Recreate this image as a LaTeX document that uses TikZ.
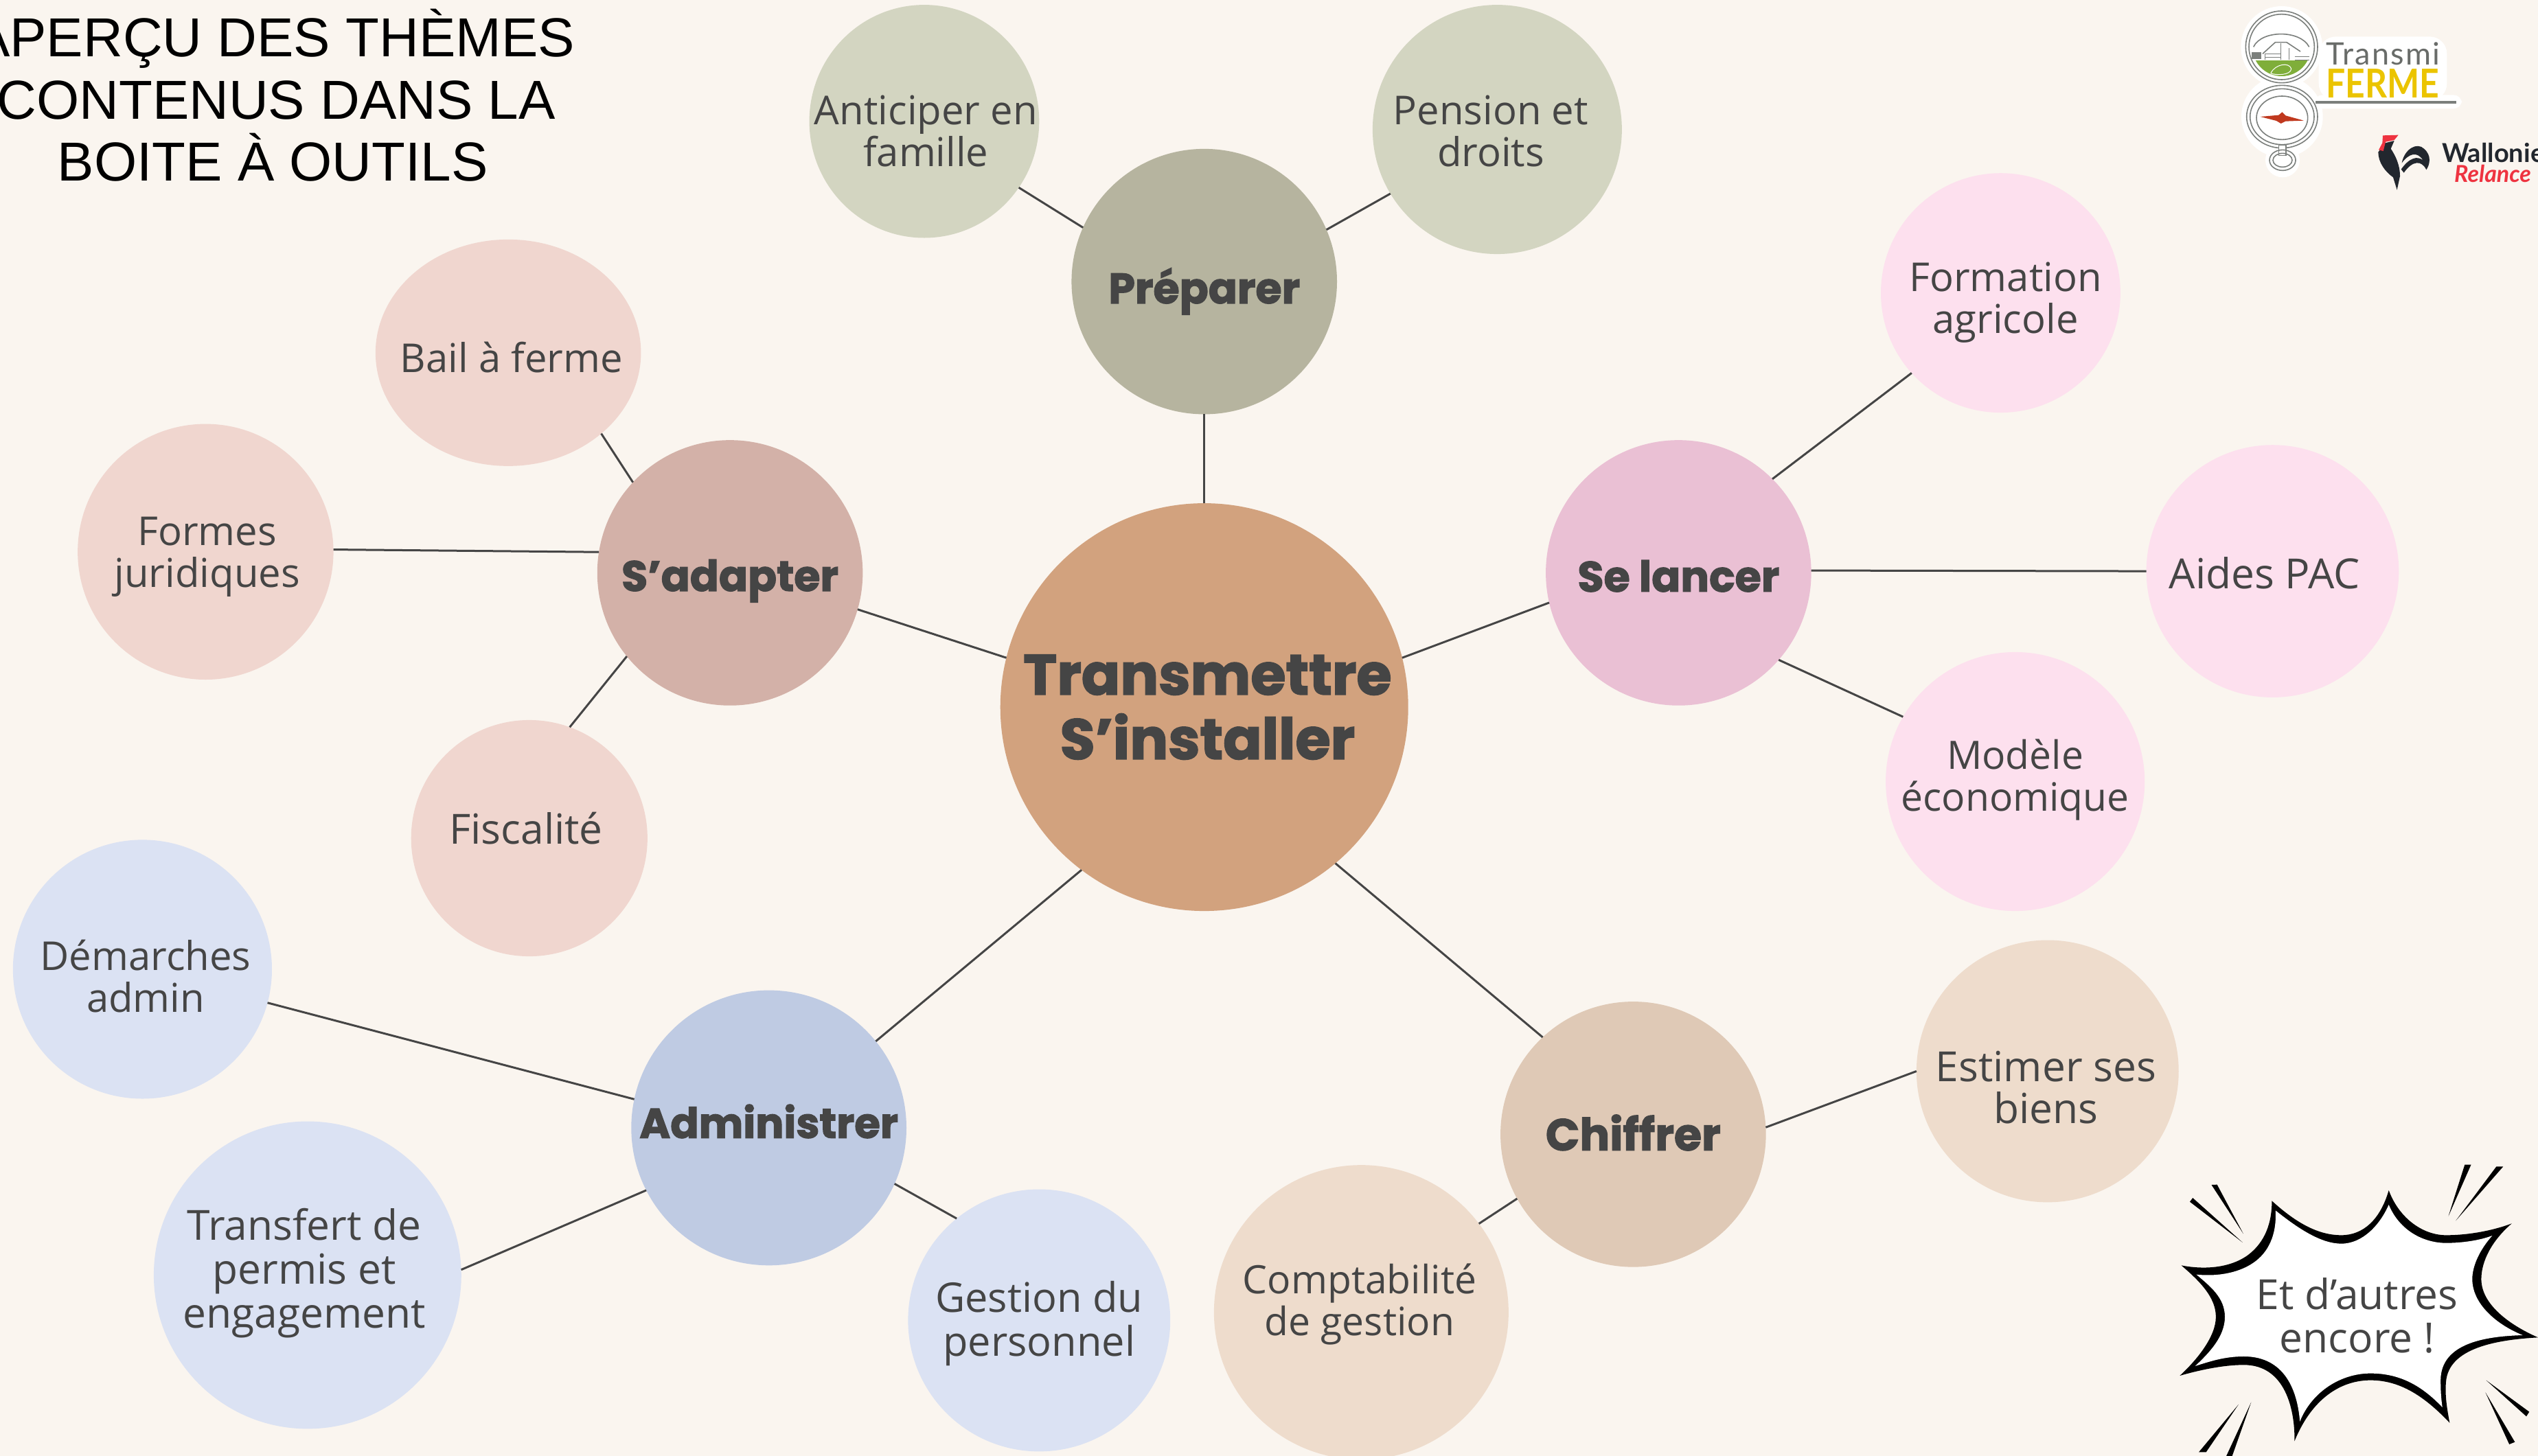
\documentclass[tikz,border=0pt]{standalone}
\usepackage{fontspec}
\setmainfont{Open Sans}
\newfontfamily\heavyfont{Poppins}[FakeBold=2]
\newfontfamily\titlefont{Liberation Sans}
\newfontfamily\logofont{Lato}
\newfontfamily\logospaced{Lato}[LetterSpace=5]
\newfontfamily\logonarrow{Lato}[FakeStretch=0.86]
\usetikzlibrary{shapes.geometric}
\definecolor{bgc}{HTML}{FAF5EF}
\definecolor{ink}{HTML}{454545}
\definecolor{cCentre}{HTML}{D2A27E}
\definecolor{cPrep}{HTML}{B6B49F}
\definecolor{cPrepL}{HTML}{D3D5C1}
\definecolor{cAdapt}{HTML}{D3B1A8}
\definecolor{cAdaptL}{HTML}{F0D6CF}
\definecolor{cLance}{HTML}{EAC0D4}
\definecolor{cLanceL}{HTML}{FDE0EE}
\definecolor{cAdmin}{HTML}{BFCBE3}
\definecolor{cAdminL}{HTML}{DBE2F3}
\definecolor{cChiff}{HTML}{DFC9B6}
\definecolor{cChiffL}{HTML}{EEDCCC}
\definecolor{logogray}{HTML}{7B7F7C}
\definecolor{logogreen}{HTML}{7FAE3A}
\definecolor{logoyellow}{HTML}{EBC400}
\definecolor{logored}{HTML}{C0391F}
\definecolor{walldark}{HTML}{22272E}
\definecolor{wallred}{HTML}{EE3340}
\tikzset{
  blob/.style={shape=ellipse,inner sep=0pt,outer sep=0pt},
  leaftext/.style={text=ink,align=center,font=\fontsize{58}{61}\selectfont},
  leafwide/.style={text=ink,align=center,font=\fontsize{60.5}{61}\selectfont},
  leaftall/.style={text=ink,align=center,font=\fontsize{58}{64}\selectfont},
  headtext/.style={text=ink,align=center,font=\heavyfont\bfseries\fontsize{62}{70}\selectfont},
  link/.style={draw=ink,line width=3pt},
  titleline/.style={text=black,anchor=base,font=\titlefont\fontsize{80}{90}\selectfont,inner sep=0pt},
  logoline/.style={draw=logogray,line width=1.6pt,fill=none},
}
\newcommand{\bubble}[9]{%
  \node[blob,fill=#6,minimum width={2*#4*2.35714pt},minimum height={2*#5*2.35714pt}] (#1) at (#2,#3) {};
  \node[#9] (#1-t) at (#7,#8) {\bubbletext};
}
\begin{document}
\begin{tikzpicture}[x=2.35714pt,y=-2.35714pt]
\useasboundingbox (0,0) rectangle (1568,899.8);
\fill[bgc] (0,0) rectangle (1568,899.8);

% title
\node[titleline] (t1) at (169.3,35.2) {APERÇU DES THÈMES};
\node[titleline] (t2) at (170.6,73.4) {CONTENUS DANS LA};
\node[titleline] (t3) at (168.5,111.6) {BOITE À OUTILS};

% bubbles
\def\bubbletext{Transmettre\\S’installer}
\bubble{c}{744}{437}{126}{126}{cCentre}{746}{437}{headtext,font=\heavyfont\bfseries\fontsize{83}{94}\selectfont}
\def\bubbletext{Préparer}
\bubble{prep}{744}{174}{82}{82}{cPrep}{744}{180}{headtext}
\def\bubbletext{Anticiper en\\famille}
\bubble{anti}{571}{75}{71}{72}{cPrepL}{572}{81}{leaftext}
\def\bubbletext{Pension et\\droits}
\bubble{pens}{925}{80}{77}{77}{cPrepL}{921}{81}{leaftext}
\def\bubbletext{S’adapter}
\bubble{adap}{451}{354}{82}{82}{cAdapt}{451}{359}{headtext}
\def\bubbletext{Bail à ferme}
\bubble{bail}{314}{218}{82}{70}{cAdaptL}{316}{221}{leaftext}
\def\bubbletext{Formes\\juridiques}
\bubble{form}{127}{341}{79}{79}{cAdaptL}{128}{344}{leaftext}
\def\bubbletext{Fiscalité}
\bubble{fisc}{327}{518}{73}{73}{cAdaptL}{325}{512}{leafwide}
\def\bubbletext{Se lancer}
\bubble{lanc}{1037}{354}{82}{82}{cLance}{1037}{356}{headtext}
\def\bubbletext{Formation\\agricole}
\bubble{fmat}{1236}{181}{74}{74}{cLanceL}{1239}{187}{leaftext}
\def\bubbletext{Aides PAC}
\bubble{aide}{1404}{353}{78}{78}{cLanceL}{1399}{354}{leafwide}
\def\bubbletext{Modèle\\économique}
\bubble{mode}{1245}{483}{80}{80}{cLanceL}{1245}{482}{leaftext,font=\fontsize{57}{61}\selectfont}
\def\bubbletext{Administrer}
\bubble{admi}{475}{697}{85}{85}{cAdmin}{475}{693}{headtext,font=\heavyfont\bfseries\fontsize{61}{70}\selectfont}
\def\bubbletext{Démarches\\admin}
\bubble{dema}{88}{599}{80}{80}{cAdminL}{90}{603.5}{leaftext}
\def\bubbletext{Transfert de\\permis et\\engagement}
\bubble{tran}{190}{788}{95}{95}{cAdminL}{188}{787}{leaftall,font=\fontsize{60.5}{64}\selectfont}
\def\bubbletext{Gestion du\\personnel}
\bubble{gest}{642}{816}{81}{81}{cAdminL}{642}{818}{leaftall,font=\fontsize{59.5}{64}\selectfont}
\def\bubbletext{Chiffrer}
\bubble{chif}{1009}{701}{82}{82}{cChiff}{1009}{700}{headtext,font=\heavyfont\bfseries\fontsize{65}{70}\selectfont}
\def\bubbletext{Estimer ses\\biens}
\bubble{esti}{1265}{662}{81}{81}{cChiffL}{1264}{672}{leafwide}
\def\bubbletext{Comptabilité\\de gestion}
\bubble{comp}{841}{811}{91}{91}{cChiffL}{840}{806}{leaftext,font=\fontsize{57}{61}\selectfont}

% connectors
\draw[link] (c.90) -- (prep.-90);
\draw[link] (c.166.2) -- (adap.-16.4);
\draw[link] (c.14.7) -- (lanc.193.5);
\draw[link] (c.233) -- (admi.39.3);
\draw[link] (c.-50.8) -- (chif.133);
\draw[link] (prep.156) -- (anti.-35);
\draw[link] (prep.23) -- (pens.211);
\draw[link] (adap.137.5) -- (bail.-41.8);
\draw[link] (adap.171) -- (form.1.5);
\draw[link] (adap.219.5) -- (fisc.70.8);
\draw[link] (lanc.45.5) -- (fmat.222);
\draw[link] (lanc.1.4) -- (aide.180.7);
\draw[link] (lanc.-41.5) -- (mode.150);
\draw[link] (admi.168.6) -- (dema.-15.3);
\draw[link] (admi.207) -- (tran.2.4);
\draw[link] (admi.-24.8) -- (gest.129);
\draw[link] (chif.3.5) -- (esti.180);
\draw[link] (chif.209.4) -- (comp.37.9);

% burst
\begin{scope}[shift={(3140pt,-1660pt)},x=0.3546pt,y=-0.3333pt]
\fill[black] (475,268) .. controls (580,370) and (670,418) .. (760,418)
  .. controls (850,418) and (920,350) .. (955,222)
  .. controls (1000,350) and (1100,418) .. (1190,418)
  .. controls (1290,418) and (1390,395) .. (1460,367)
  .. controls (1380,440) and (1335,530) .. (1335,610)
  .. controls (1335,720) and (1450,810) .. (1568,865)
  .. controls (1400,875) and (1200,910) .. (1190,1060)
  .. controls (1185,1120) and (1195,1180) .. (1205,1238)
  .. controls (1100,1120) and (1000,1052) .. (880,1052)
  .. controls (760,1052) and (640,1130) .. (568,1318)
  .. controls (570,1180) and (530,985) .. (360,985)
  .. controls (270,985) and (170,1010) .. (97,1032)
  .. controls (170,960) and (245,860) .. (245,775)
  .. controls (245,690) and (180,620) .. (103,550)
  .. controls (200,570) and (300,560) .. (370,510)
  .. controls (450,450) and (475,360) .. (475,268) -- cycle;
\fill[white] (490,310) .. controls (590,395) and (680,455) .. (760,455)
  .. controls (850,455) and (920,370) .. (955,285)
  .. controls (1000,400) and (1100,452) .. (1190,452)
  .. controls (1260,452) and (1330,440) .. (1380,420)
  .. controls (1330,480) and (1298,550) .. (1298,610)
  .. controls (1298,720) and (1400,810) .. (1505,855)
  .. controls (1350,860) and (1170,890) .. (1168,1050)
  .. controls (1168,1100) and (1170,1130) .. (1175,1170)
  .. controls (1090,1075) and (1000,1022) .. (880,1022)
  .. controls (760,1022) and (640,1100) .. (590,1232)
  .. controls (580,1100) and (530,948) .. (360,948)
  .. controls (280,948) and (220,970) .. (160,990)
  .. controls (220,930) and (282,860) .. (282,775)
  .. controls (282,690) and (220,640) .. (165,590)
  .. controls (260,600) and (350,580) .. (410,530)
  .. controls (470,480) and (495,400) .. (490,310) -- cycle;
\fill[black] (355,450) -- (138,272) -- (150,255) -- cycle;
\fill[black] (358,412) -- (227,198) -- (250,197) -- cycle;
\fill[black] (1200,335) -- (1267,110) -- (1293,110) -- cycle;
\fill[black] (1230,355) -- (1397,118) -- (1425,118) -- cycle;
\fill[black] (1355,1052) -- (1520,1210) -- (1532,1190) -- cycle;
\fill[black] (1352,1105) -- (1450,1332) -- (1473,1322) -- cycle;
\fill[black] (338,1158) -- (175,1366) -- (205,1366) -- cycle;
\fill[black] (390,1148) -- (288,1383) -- (312,1383) -- cycle;
\node[leaftext,font=\fontsize{60.5}{63}\selectfont] (burst) at (825,770) {Et d’autres\\encore !};
\end{scope}

% logos
\begin{scope}[shift={(3180pt,0pt)},x=0.33333pt,y=-0.33333pt]
\fill[white] (428,205) circle (178);
\fill[white] (430,510) circle (178);
\fill[white] (432,700) circle (75);
\fill[white,rounded corners=25pt] (590,160) rectangle (1150,440);
\fill[white,rounded corners=12pt] (570,415) rectangle (1215,475);
\begin{scope}
\clip (428,205) circle (128);
\fill[logogreen] (280,265) rectangle (580,360);
\draw[white,line width=1pt] (380,320) .. controls (400,280) and (460,270) .. (470,300) .. controls (470,330) and (400,330) .. (380,320);
\end{scope}
\draw[logoline] (428,205) circle (157);
\draw[logoline] (428,205) circle (143);
\draw[logoline] (305,205) .. controls (340,130) and (510,130) .. (548,205);
\draw[logoline] (345,235) -- (400,185) -- (450,185) -- (510,225);
\draw[logoline] (355,235) -- (355,262) (425,190) -- (425,262) (460,210) -- (460,262);
\draw[logoline] (355,235) -- (425,235) (355,250) -- (425,250);
\draw[logoline] (485,262) -- (550,262) (485,248) -- (550,248);
\fill[logogray] (298,228) rectangle (340,258);
\draw[logoline] (430,510) ellipse [x radius=155,y radius=137];
\draw[logoline] (430,510) ellipse [x radius=140,y radius=122];
\draw[logoline] (430,515) ellipse [x radius=112,y radius=95];
\fill[white,draw=logogray,line width=1.2pt] (415,635) rectangle (447,680);
\draw[logoline] (432,700) ellipse [x radius=57,y radius=45];
\draw[logoline] (432,700) ellipse [x radius=42,y radius=30];
\fill[logored] (335,510) -- (415,503) -- (430,490) -- (445,505) -- (525,527) -- (445,530) -- (425,540) -- (405,528) -- cycle;
\fill[logogray] (575,440) rectangle (1190,453);
\node[text=logogray!85!black,anchor=base west,inner sep=0pt,font=\logospaced\fontsize{45}{45}\selectfont] (transmi) at (622,283) {Transmi};
\node[text=logoyellow,anchor=base west,inner sep=0pt,font=\logonarrow\bfseries\fontsize{58}{58}\selectfont] (ferme) at (622,428) {FERME};
% rooster
\fill[walldark] (880,625) -- (920,615) -- (905,650) .. controls (925,680) and (945,720) .. (945,770) -- (932,830) -- (915,775) .. controls (880,750) and (850,710) .. (850,665) -- cycle;
\fill[walldark] (953,712) .. controls (965,650) and (1020,620) .. (1050,650) .. controls (1085,680) and (1075,720) .. (1060,742) .. controls (1040,700) and (1000,700) .. (962,755) -- (950,740) .. controls (985,690) and (1020,680) .. (1045,700) .. controls (1020,660) and (985,670) .. (953,712) -- cycle;
\fill[wallred] (870,592) -- (938,590) -- (920,612) -- (882,620) -- (872,660) -- (852,655) -- (868,625) -- cycle;
\node[text=walldark,anchor=base west,inner sep=0pt,font=\logofont\bfseries\fontsize{38}{38}\selectfont] (wall) at (1128,708) {Wallonie};
\node[text=wallred,anchor=base west,inner sep=0pt,font=\logofont\bfseries\itshape\fontsize{34}{34}\selectfont] (rel) at (1182,795) {Relance};
\end{scope}
\end{tikzpicture}
\end{document}
